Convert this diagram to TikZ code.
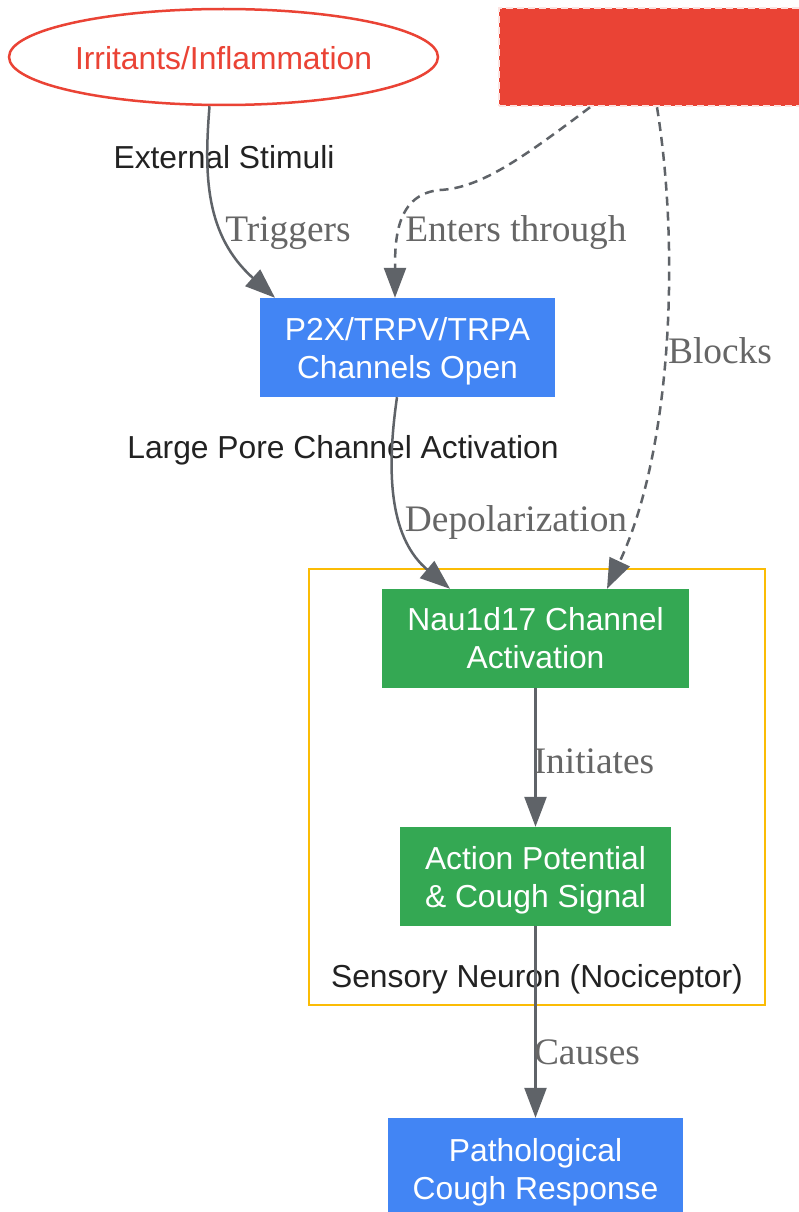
\documentclass[tikz,border=0pt]{standalone}
\usepackage{fontspec}
\setmainfont{Liberation Sans}
\newfontfamily\lblserif{Liberation Serif}
\usetikzlibrary{arrows.meta,shapes.geometric,calc}
\definecolor{gred}{HTML}{EA4335}
\definecolor{gblue}{HTML}{4285F4}
\definecolor{ggreen}{HTML}{34A853}
\definecolor{gyellow}{HTML}{FBBC05}
\definecolor{edgegray}{HTML}{5F6368}
\definecolor{lblgray}{HTML}{666666}
\definecolor{txtdark}{HTML}{222222}
\newcommand{\twolines}[3]{\raisebox{-#1}[\height][\depth]{\begin{tabular}{@{}c@{}}#2\\#3\end{tabular}}}
\tikzset{
  box/.style={rectangle, inner sep=0pt, minimum height=99pt, align=center, text=white,
    font=\fontsize{31.8}{38}\selectfont},
  bluebox/.style={box, fill=gblue},
  greenbox/.style={box, fill=ggreen},
  plain/.style={font=\fontsize{31.8}{38}\selectfont, text=txtdark, inner sep=0pt},
  elabel/.style={font=\lblserif\fontsize{37.4}{44}\selectfont, text=lblgray, inner sep=0pt},
  conn/.style={draw=edgegray, line width=2.5pt, -{Triangle[length=30pt,width=22pt]}},
  dconn/.style={conn, dash pattern=on 9pt off 6pt},
}
\begin{document}
\begin{tikzpicture}[x=1pt,y=-1pt]
\useasboundingbox (0,0) rectangle (799,1212);
\fill[white] (0,0) rectangle (799,1212);
% cluster
\draw[gyellow, line width=2.5pt] (309,569) rectangle (765,1005);
\node[plain] (clab) at (537,979) {Sensory Neuron (Nociceptor)};
% nodes
\node[ellipse, draw=gred, line width=2.5pt, minimum width=429pt, minimum height=96pt, inner sep=0pt,
  text=gred, font=\fontsize{31.8}{38}\selectfont] (irr) at (223.5,57) {\raisebox{-1pt}[\height][\depth]{Irritants/Inflammation}};
\node[rectangle, fill=gred, draw=white!85!gred, line width=2.5pt, dash pattern=on 7pt off 4pt,
  minimum width=321pt, minimum height=98pt, inner sep=0pt] (drug) at (659.5,57) {};
\node[plain] (ext) at (224,157) {External Stimuli};
\node[bluebox, minimum width=295pt] (p2x) at (407.5,347.5) {\twolines{4pt}{P2X/TRPV/TRPA}{Channels Open}};
\node[plain] (lpc) at (343,450) {Large Pore Channel Activation};
\node[greenbox, minimum width=307pt] (nav) at (535.5,638.5) {\twolines{3pt}{Nau1d17 Channel}{Activation}};
\node[greenbox, minimum width=271pt] (act) at (535.5,876.5) {\twolines{4pt}{Action Potential}{\& Cough Signal}};
\node[bluebox, minimum width=295pt] (cough) at (535.5,1167.5) {\twolines{5pt}{Pathological}{Cough Response}};
% edges
\draw[conn] ([xshift=-14pt]irr.south) .. controls (204,175) and (205,235) .. ([xshift=-132.5pt]p2x.north);
\draw[dconn] ([xshift=-69.5pt]drug.south) .. controls (520,160) and (480,188) .. (440,190)
  .. controls (396,194) and (395,240) .. ([xshift=-12.5pt]p2x.north);
\draw[dconn] ([xshift=-2.5pt]drug.south) .. controls (680,250) and (672,450) .. ([xshift=71.5pt]nav.north);
\draw[conn] ([xshift=-10.5pt]p2x.south) .. controls (385,480) and (392,540) .. ([xshift=-85.5pt]nav.north);
\draw[conn] (nav.south) -- (act.north);
\draw[conn] (act.south) -- (cough.north);
% edge labels
\node[elabel] (l1) at (288,233) {Triggers};
\node[elabel] (l2) at (516,233) {Enters through};
\node[elabel] (l3) at (720,351) {Blocks};
\node[elabel] (l4) at (516,523) {Depolarization};
\node[elabel] (l5) at (594,761) {Initiates};
\node[elabel] (l6) at (587,1052) {Causes};
\end{tikzpicture}
\end{document}
